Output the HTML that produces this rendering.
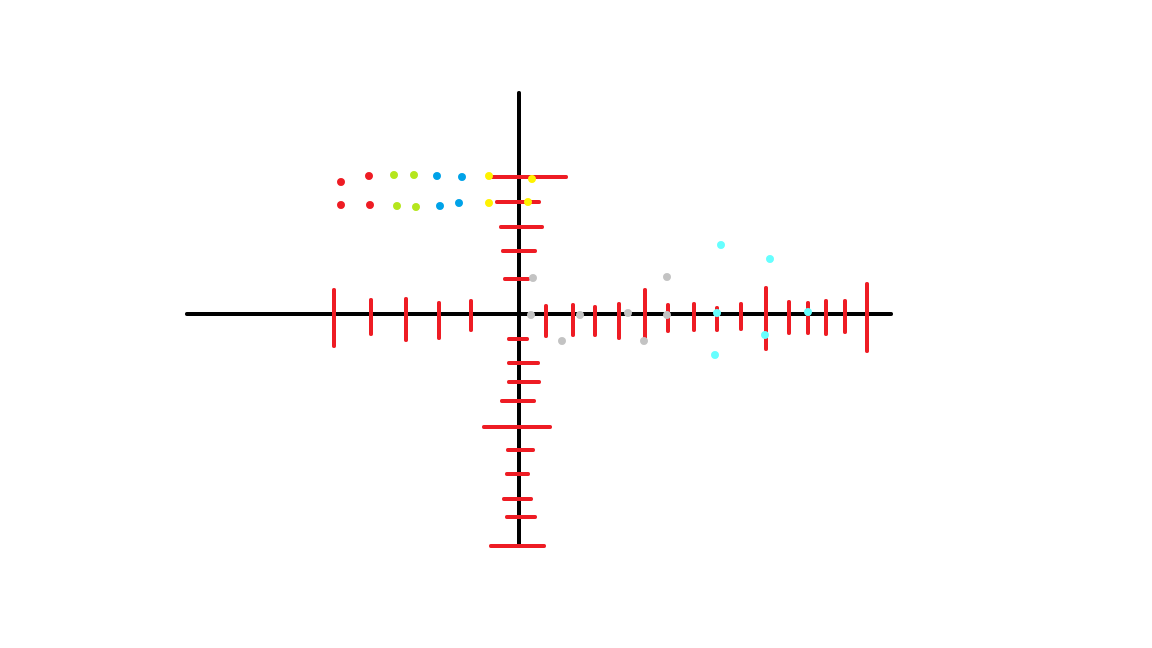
<!DOCTYPE html>
<html><head><meta charset="utf-8"><style>
html,body{margin:0;padding:0;background:#fff;width:1152px;height:648px;overflow:hidden}
svg{display:block}
</style></head><body>
<svg id="chart" width="1152" height="648" viewBox="0 0 1152 648" xmlns="http://www.w3.org/2000/svg">
<g id="axes"></g>
<g id="ticks"></g>
<g id="dots"></g>
</svg>
<script>
// origin-relative data (units = px offsets from axes crossing)
const xTickPos = [-185,-148,-113,-80,-48,27,54,76,100,126,149,175,198,222,247,270,289,307,326,348];
const xTickUp = [24,14,15,11,13,8,9,7,10,24,9,10,6,10,26,12,11,13,13,30];
const xTickDown = [32,20,26,24,16,22,21,21,24,24,17,16,16,15,35,19,19,20,18,37];
const yTickPos = [-137,-112,-87,-63,-35,25,49,68,87,113,136,160,185,203,232];
const yTickLeft = [29,22,18,16,14,10,10,10,17,35,11,12,15,12,28];
const yTickRight = [47,20,23,16,9,8,19,20,15,31,14,9,12,16,25];
const dotX = [-178,-150,-125,-105,-82,-57,-30,-178,-149,-122,-103,-79,-60,-30,13,9,14,12,43,61,109,125,148,148,202,251,198,246,196,289];
const dotY = [-132,-138,-139,-139,-138,-137,-138,-109,-109,-108,-107,-108,-111,-111,-135,-112,-36,1,27,1,-1,27,-37,1,-69,-55,-1,21,41,-2];
const dotColor = ["#ee1c24","#ee1c24","#b5e61d","#b5e61d","#00a2e8","#00a2e8","#fff200","#ee1c24","#ee1c24","#b5e61d","#b5e61d","#00a2e8","#00a2e8","#fff200","#fff200","#fff200","#c3c3c3","#c3c3c3","#c3c3c3","#c3c3c3","#c3c3c3","#c3c3c3","#c3c3c3","#c3c3c3","#6ff","#6ff","#6ff","#6ff","#6ff","#6ff"];
const ox = 519, oy = 314;
const sx = v => ox + v;
const sy = v => oy + v;
const NS = "http://www.w3.org/2000/svg";
function mk(tag, attrs, parent){const e=document.createElementNS(NS,tag);for(const k in attrs)e.setAttribute(k,attrs[k]);parent.appendChild(e);return e;}
const axes=document.getElementById('axes'), ticks=document.getElementById('ticks'), dots=document.getElementById('dots');
let a=mk('line',{x1:187,y1:sy(0),x2:891,y2:sy(0),stroke:'#000','stroke-width':4,'stroke-linecap':'round'},axes);


a=mk('line',{x1:sx(0),y1:93,x2:sx(0),y2:546,stroke:'#000','stroke-width':4,'stroke-linecap':'round'},axes);


xTickPos.forEach((p,i)=>{
  const t=mk('line',{x1:sx(p),y1:sy(-xTickUp[i]),x2:sx(p),y2:sy(xTickDown[i]),stroke:'#ee1c24','stroke-width':4,'stroke-linecap':'round'},ticks);
  
  
});
yTickPos.forEach((p,i)=>{
  const t=mk('line',{x1:sx(-yTickLeft[i]),y1:sy(p),x2:sx(yTickRight[i]),y2:sy(p),stroke:'#ee1c24','stroke-width':4,'stroke-linecap':'round'},ticks);
  
  
});
dotX.forEach((v,i)=>{
  const d=mk('circle',{cx:sx(v),cy:sy(dotY[i]),r:4,fill:dotColor[i]},dots);
  
  
});
</script>
</body></html>
